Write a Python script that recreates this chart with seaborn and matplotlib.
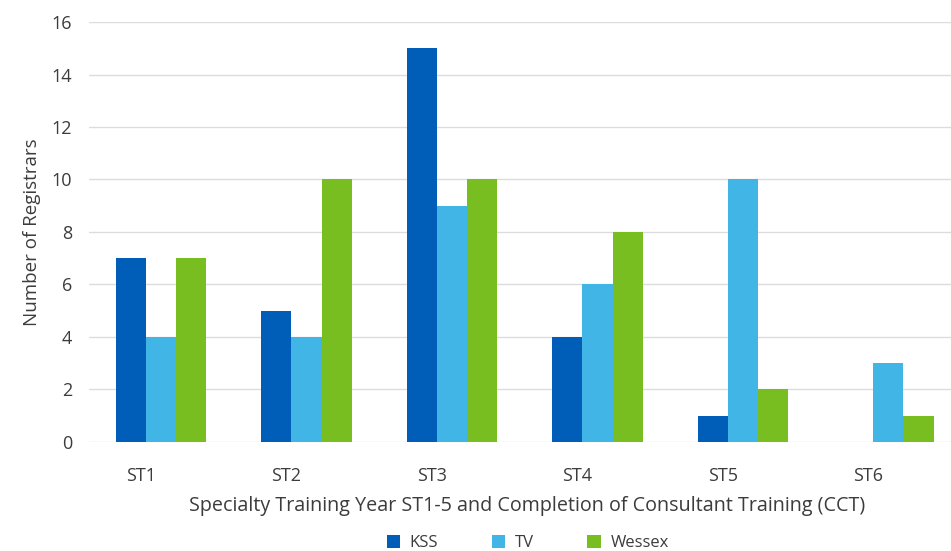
import numpy as np
import pandas as pd
import matplotlib
matplotlib.use("Agg")
import matplotlib.pyplot as plt
import seaborn as sns

categories = ["ST1", "ST2", "ST3", "ST4", "ST5", "ST6"]
regions = ["KSS", "TV", "Wessex"]
kss = [7, 5, 15, 4, 1, 0]
tv = [4, 4, 9, 6, 10, 3]
wessex = [7, 10, 10, 8, 2, 1]
colors = ["#005EB8", "#41B6E6", "#78BE20"]

df = pd.DataFrame({
    "year": categories * 3,
    "region": [r for r in regions for _ in categories],
    "count": kss + tv + wessex,
})

sns.set_style("white")
plt.rcParams["font.family"] = ["Open Sans", "DejaVu Sans"]
text_col = "#3c3c3c"

fig = plt.figure(figsize=(9.51, 5.51), dpi=100)
ax = fig.add_axes([0.0936, 0.198, 0.9064, 0.762])

sns.barplot(data=df, x="year", y="count", hue="region", palette=colors,
            width=0.62, saturation=1, linewidth=0, ax=ax, legend=True)

ax.set_ylim(0, 16)
ax.set_xlim(-0.495, 5.43)
ax.set_yticks(range(0, 17, 2))
ax.yaxis.grid(True, color="#dcdcdc", linewidth=1)
ax.set_axisbelow(True)
for s in ax.spines.values():
    s.set_visible(False)

# category labels sit a little left of the bar groups, as in the original
ax.set_xticks(np.arange(len(categories)) - 0.14, categories)
ax.tick_params(axis="both", length=0, labelsize=13, colors=text_col)
ax.tick_params(axis="y", pad=12)
ax.tick_params(axis="x", pad=18)

ax.set_ylabel("Number of Registrars", fontsize=13.5, color=text_col, labelpad=8)
ax.set_xlabel("Specialty Training Year ST1-5 and Completion of Consultant Training (CCT)",
              fontsize=14.2, color=text_col)
ax.xaxis.set_label_coords(0.508, -0.13)

handles, labels = ax.get_legend_handles_labels()
ax.legend(handles, labels, loc="lower center", bbox_to_anchor=(0.555, -0.028),
          bbox_transform=fig.transFigure, ncol=3, frameon=False, fontsize=12,
          handlelength=0.8, handleheight=0.8, columnspacing=3.2, handletextpad=0.6,
          labelcolor=text_col)

fig.savefig("out.png", dpi=100)
